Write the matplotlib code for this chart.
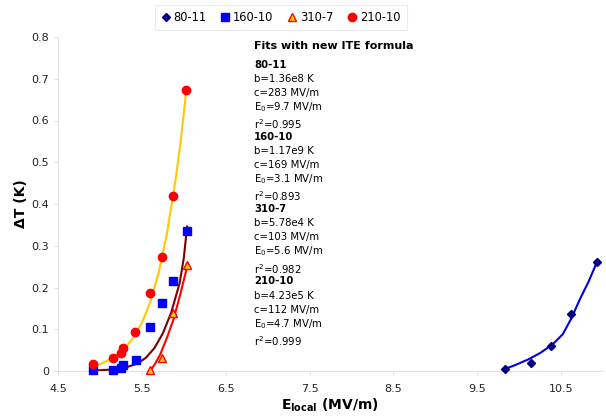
import matplotlib
matplotlib.use("Agg")
import matplotlib.pyplot as plt

# measured points
e_210 = [4.92, 5.15, 5.25, 5.27, 5.42, 5.60, 5.74, 5.87, 6.03]
t_210 = [0.017, 0.030, 0.042, 0.056, 0.094, 0.186, 0.272, 0.420, 0.672]
e_160 = [4.92, 5.15, 5.25, 5.27, 5.43, 5.60, 5.74, 5.87, 6.04]
t_160 = [0.002, 0.003, 0.008, 0.015, 0.027, 0.105, 0.162, 0.216, 0.336]
e_310 = [5.60, 5.74, 5.87, 6.04]
t_310 = [0.002, 0.030, 0.138, 0.253]
e_80 = [9.83, 10.14, 10.38, 10.62, 10.93]
t_80 = [0.005, 0.020, 0.061, 0.137, 0.262]

# fit curves
fit_e_210 = [4.92, 5.00, 5.10, 5.20, 5.30, 5.40, 5.50, 5.60, 5.70, 5.80, 5.90, 5.96, 6.03]
fit_t_210 = [0.010, 0.016, 0.026, 0.038, 0.055, 0.080, 0.115, 0.165, 0.235, 0.330, 0.455, 0.545, 0.672]
fit_e_160 = [4.92, 5.10, 5.30, 5.45, 5.55, 5.65, 5.75, 5.85, 5.95, 6.00, 6.04]
fit_t_160 = [0.001, 0.003, 0.008, 0.018, 0.032, 0.055, 0.090, 0.140, 0.210, 0.270, 0.346]
fit_e_310 = [5.60, 5.66, 5.72, 5.80, 5.88, 5.96, 6.04]
fit_t_310 = [0.000, 0.018, 0.040, 0.080, 0.125, 0.185, 0.250]
fit_e_80 = [9.83, 9.95, 10.10, 10.25, 10.40, 10.52, 10.62, 10.72, 10.83, 10.93]
fit_t_80 = [0.005, 0.014, 0.027, 0.043, 0.064, 0.088, 0.125, 0.170, 0.215, 0.262]

x_ticks = [4.5, 5.5, 6.5, 7.5, 8.5, 9.5, 10.5]
y_ticks = [0, 0.1, 0.2, 0.3, 0.4, 0.5, 0.6, 0.7, 0.8]
y_tick_labels = ["0", "0.1", "0.2", "0.3", "0.4", "0.5", "0.6", "0.7", "0.8"]

fit_title = "Fits with new ITE formula"
fit_blocks = [
    ("80-11", "1.36e8", "283", "9.7", "0.995"),
    ("160-10", "1.17e9", "169", "3.1", "0.893"),
    ("310-7", "5.78e4", "103", "5.6", "0.982"),
    ("210-10", "4.23e5", "112", "4.7", "0.999"),
]

fig = plt.figure(figsize=(6.06, 4.2), dpi=100)
ax = fig.add_axes([58 / 606, 49 / 420, 545 / 606, 334 / 420])

# fit lines
ax.plot(fit_e_210, fit_t_210, color="#FFC800", lw=1.5, zorder=2)
ax.plot(fit_e_160, fit_t_160, color="#7A0000", lw=1.5, zorder=2)
ax.plot(fit_e_310, fit_t_310, color="#FF0000", lw=1.5, zorder=2)
ax.plot(fit_e_80, fit_t_80, color="#0000E6", lw=1.5, zorder=2)

# markers
ax.plot(e_80, t_80, ls="none", marker="D", ms=4, color="#000080",
        label="80-11", clip_on=False, zorder=3)
ax.plot(e_160, t_160, ls="none", marker="s", ms=5.5, color="#0000FF",
        label="160-10", clip_on=False, zorder=3)
ax.plot(e_310, t_310, ls="none", marker="^", ms=6, markerfacecolor="#FFCC00",
        markeredgecolor="#FF0000", markeredgewidth=1, label="310-7",
        clip_on=False, zorder=3)
ax.plot(e_210, t_210, ls="none", marker="o", ms=6, color="#FF0000",
        label="210-10", clip_on=False, zorder=3)

ax.set_xlim(4.5, 11.0)
ax.set_ylim(0, 0.8)
ax.set_xticks(x_ticks)
ax.set_xticklabels([f"{v:g}" for v in x_ticks])
ax.set_yticks(y_ticks)
ax.set_yticklabels(y_tick_labels)
ax.tick_params(labelsize=8, labelcolor="#222222", length=3, width=0.6,
               color="#DDDDDD")
ax.tick_params(axis="x", pad=6)

for side in ["top", "right"]:
    ax.spines[side].set_visible(False)
for side in ["left", "bottom"]:
    ax.spines[side].set_color("#E3E3E3")
    ax.spines[side].set_linewidth(0.8)

ax.set_ylabel("ΔT (K)", fontsize=10, fontweight="bold")
ax.yaxis.set_label_coords(-30 / 545, 0.5)
ax.set_xlabel(r"$\mathbf{E_{local}}$ (MV/m)", fontsize=10,
              fontweight="bold", labelpad=2)

leg = fig.legend(loc="upper center", bbox_to_anchor=(281 / 606, 1.003),
                 ncol=4, fontsize=8.3, frameon=True, handlelength=0.7,
                 handletextpad=0.3, columnspacing=1.3, borderpad=0.55,
                 fancybox=False)
leg.get_frame().set_edgecolor("#E6E6E6")
leg.get_frame().set_linewidth(0.8)

# fit parameter text block
x_text = 254 / 606
fig.text(x_text, 1 - 46 / 420, fit_title, fontsize=8, fontweight="bold",
         va="center")
y = 64.5
for name, b, c, e0, r2 in fit_blocks:
    fig.text(x_text, 1 - y / 420, name, fontsize=7.3, fontweight="bold", va="center")
    fig.text(x_text, 1 - (y + 14.3) / 420, f"b={b} K", fontsize=7.3, va="center")
    fig.text(x_text, 1 - (y + 28.3) / 420, f"c={c} MV/m", fontsize=7.3, va="center")
    fig.text(x_text, 1 - (y + 42.3) / 420, f"E$_0$={e0} MV/m", fontsize=7.3, va="center")
    fig.text(x_text, 1 - (y + 59.5) / 420, f"r$^2$={r2}", fontsize=7.3, va="center")
    y += 72.3

fig.savefig("out.png", dpi=100)
